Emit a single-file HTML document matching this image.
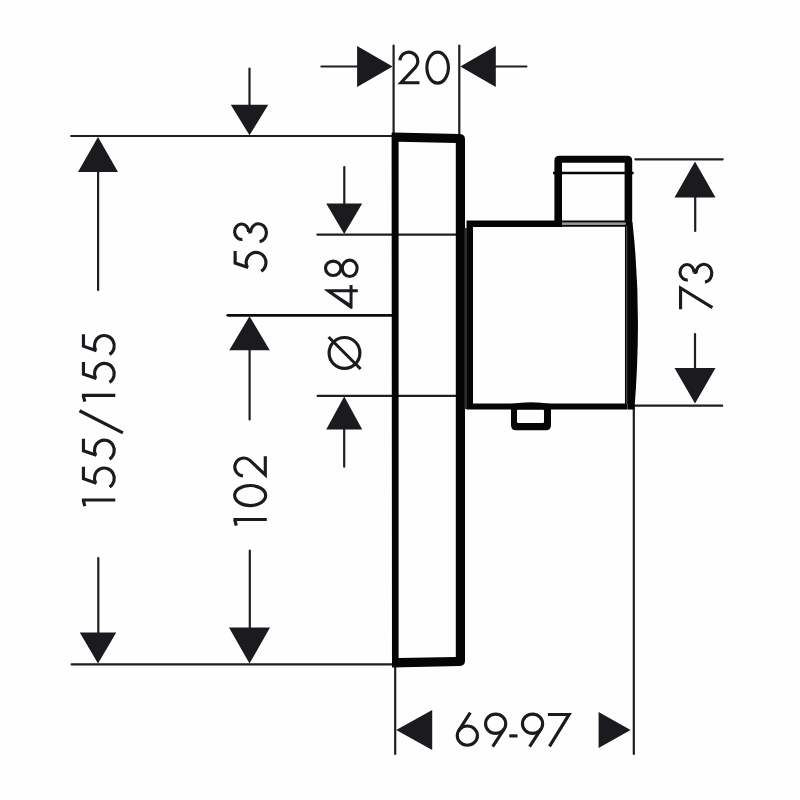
<!DOCTYPE html>
<html><head><meta charset="utf-8"><title>Dimension drawing</title>
<style>html,body{margin:0;padding:0;background:#fefefe;font-family:"Liberation Sans",sans-serif;}svg{display:block}</style>
</head><body>
<svg width="800" height="800" viewBox="0 0 800 800">
<rect width="800" height="800" fill="#fefefe"/>
<g fill="none" stroke="#1b1b1f" stroke-width="3.15" stroke-linecap="butt" stroke-linejoin="round">
<g transform="translate(398.3,50.8)"><path d="M1.6,9.6 A8.95,8.95 0 1 1 17.05,16.50 L2.7,31.9 H21.2" stroke-linejoin="miter" stroke-miterlimit="10"/></g>
<g transform="translate(425.4,50.8)"><ellipse cx="12.25" cy="16.75" rx="10.75" ry="15.5"/></g>
<g transform="translate(455.7,712.9)"><ellipse cx="11.65" cy="22.7" rx="10.1" ry="9.65"/><path d="M14.6,-0.2 L3.06,17.62"/></g>
<g transform="translate(484.0,712.9)"><g transform="rotate(180 11.65 16.75)"><ellipse cx="11.65" cy="22.7" rx="10.1" ry="9.65"/><path d="M14.6,-0.2 L3.06,17.62"/></g></g>
<g transform="translate(509.3,712.9)"><path d="M0,23.0 H8.2"/></g>
<g transform="translate(520.9,712.9)"><g transform="rotate(180 11.65 16.75)"><ellipse cx="11.65" cy="22.7" rx="10.1" ry="9.65"/><path d="M14.6,-0.2 L3.06,17.62"/></g></g>
<g transform="translate(547.9,712.9)"><path d="M0,1.55 H21.2 L1.6,33.4" stroke-linejoin="miter" stroke-miterlimit="10"/></g>
<g transform="translate(81.9,506.5) rotate(-90)"><path d="M0.3,2.9 L6.5,1.3 M6.5,0 V33.4"/></g>
<g transform="translate(81.9,488.1) rotate(-90)"><path d="M21.4,1.55 H9.4 L4.95,14.6" stroke-linejoin="miter" stroke-miterlimit="4"/><path d="M5.3,13.6 A10.2,9.9 0 1 1 1.15,27.6"/></g>
<g transform="translate(81.9,460.25) rotate(-90)"><path d="M21.4,1.55 H9.4 L4.95,14.6" stroke-linejoin="miter" stroke-miterlimit="4"/><path d="M5.3,13.6 A10.2,9.9 0 1 1 1.15,27.6"/></g>
<g transform="translate(81.9,433.75) rotate(-90)"><path d="M0.8,41 L23.0,-2.4"/></g>
<g transform="translate(81.9,401.9) rotate(-90)"><path d="M0.3,2.9 L6.5,1.3 M6.5,0 V33.4"/></g>
<g transform="translate(81.9,383.5) rotate(-90)"><path d="M21.4,1.55 H9.4 L4.95,14.6" stroke-linejoin="miter" stroke-miterlimit="4"/><path d="M5.3,13.6 A10.2,9.9 0 1 1 1.15,27.6"/></g>
<g transform="translate(81.9,355.6) rotate(-90)"><path d="M21.4,1.55 H9.4 L4.95,14.6" stroke-linejoin="miter" stroke-miterlimit="4"/><path d="M5.3,13.6 A10.2,9.9 0 1 1 1.15,27.6"/></g>
<g transform="translate(233.4,526.0) rotate(-90)"><path d="M0.3,2.9 L6.5,1.3 M6.5,0 V33.4"/></g>
<g transform="translate(233.4,507.1) rotate(-90)"><ellipse cx="11.55" cy="16.75" rx="10.05" ry="15.5"/></g>
<g transform="translate(233.4,477.5) rotate(-90)"><path d="M1.6,9.6 A8.95,8.95 0 1 1 17.05,16.50 L2.7,31.9 H21.2" stroke-linejoin="miter" stroke-miterlimit="10"/></g>
<g transform="translate(233.6,272.4) rotate(-90)"><path d="M21.4,1.55 H9.4 L4.95,14.6" stroke-linejoin="miter" stroke-miterlimit="4"/><path d="M5.3,13.6 A10.2,9.9 0 1 1 1.15,27.6"/></g>
<g transform="translate(233.6,242.2) rotate(-90)"><path d="M2.8,8.8 A7.7,7.0 0 1 1 10.0,15.0 M8.8,16.1 H10.6 M9.4,17.0 A9.0,7.9 0 1 1 0.55,26.0"/></g>
<g transform="translate(324.4,308.9) rotate(-90)"><path stroke="none" fill="#1b1b1f" fill-rule="evenodd" d="M19.6,0 L18.9,0 L0,26.6 L0.4,28.15 L16.6,28.15 L16.6,33.4 L19.6,33.4 L19.6,28.15 L24,28.15 L24,25.15 L19.6,25.15 Z M16.6,8.4 L16.6,25.15 L5.6,25.15 Z"/></g>
<g transform="translate(324.4,278.0) rotate(-90)"><ellipse cx="9.7" cy="8.8" rx="7.2" ry="7.7"/><ellipse cx="9.7" cy="25.3" rx="8.2" ry="7.4"/></g>
<g transform="translate(679.0,309.2) rotate(-90)"><path d="M0,1.55 H21.2 L1.6,33.4" stroke-linejoin="miter" stroke-miterlimit="10"/></g>
<g transform="translate(679.0,282.7) rotate(-90)"><path d="M2.8,8.8 A7.7,7.0 0 1 1 10.0,15.0 M8.8,16.1 H10.6 M9.4,17.0 A9.0,7.9 0 1 1 0.55,26.0"/></g>
<circle cx="344.5" cy="352.9" r="15.4"/><path d="M328.6,337.0 L360.6,369.0"/>
</g>
<path d="M71.2,136.0 H393 M71.6,664.3 H396 M317.4,234.55 H467 M317.6,395.8 H467 M393.6,45.6 V135 M459.3,45.6 V135 M321.4,66.5 H358 M495,66.5 H526.4 M635.4,159.35 H722.7 M635,405.7 H722.2 M633.8,405 V754 M395.2,664 V754 M98.1,171 V290 M98.3,558 V634 M249.5,68.5 V106 M249.6,349 V419.5 M249.8,550.7 V628 M344.3,167 V205 M344.2,429 V466.7 M695.2,197 V231 M695.0,334 V369" fill="none" stroke="#1e1e20" stroke-width="2.2" stroke-linecap="round"/>
<path d="M227.8,315.35 H392" fill="none" stroke="#0c0c0e" stroke-width="2.9" stroke-linecap="round"/>
<path d="M392.6,66.5 L357.10,87.00 L357.10,46.00 Z M460.3,66.5 L495.80,46.00 L495.80,87.00 Z M98.0,137.0 L118.00,172.00 L78.00,172.00 Z M98.0,663.6 L79.75,632.60 L116.25,632.60 Z M249.5,135.2 L230.75,104.70 L268.25,104.70 Z M249.5,316.2 L269.75,350.20 L229.25,350.20 Z M249.5,663.6 L229.00,627.60 L270.00,627.60 Z M344.2,234.0 L326.20,203.50 L362.20,203.50 Z M344.2,396.6 L362.20,429.60 L326.20,429.60 Z M695.0,161.5 L715.50,197.50 L674.50,197.50 Z M695.0,403.5 L674.50,368.00 L715.50,368.00 Z M396.2,730.0 L432.20,710.00 L432.20,750.00 Z M630.6,730.0 L598.60,748.00 L598.60,712.00 Z" fill="#1b1b1f"/>
<path fill="#050505" fill-rule="evenodd" d="M391.6,133.4 Q391.6,132.4 392.6,132.4 L460,134.0 Q465,134.2 465,139.2 V661 Q465,665.8 460,665.9 L392,667.6 Z M398.6,141.8 L455.8,143.0 V657.0 L398.6,658.0 Z"/>
<path fill="#050505" d="M466.5,220.5 H562 V227 H473 V403.5 H627 V409.6 H466.5 Z"/>
<rect x="464.4" y="228" width="2.6" height="181" fill="#2e2e2e"/>
<path fill="#050505" fill-rule="evenodd" d="M554.4,225 V160.8 Q554.4,155.8 559.4,155.8 H627.2 Q632.2,155.8 632.2,160.8 V226 H624.6 V162.7 H562 V225 Z"/>
<path d="M553,173 H633.6" stroke="#050505" stroke-width="2.6" fill="none"/>
<path d="M562,221.6 H626 M562,225.6 H626" stroke="#050505" stroke-width="2.2" fill="none"/>
<rect x="562" y="222.6" width="64" height="2" fill="#9a9696"/>
<path d="M625.8,226 V404" stroke="#050505" stroke-width="1.7" fill="none"/>
<rect x="626" y="226" width="2" height="178" fill="#444"/>
<path fill="#050505" d="M627.3,222 H632.4 Q642.4,310 634.4,409.6 H627.3 Z"/>
<path fill="#050505" fill-rule="evenodd" d="M511,404 Q531,400.6 551,404 V425.2 Q551,430.2 546,430.2 H516 Q511,430.2 511,425.2 Z M518.2,409.5 H542.8 Q544,409.5 544,410.7 V421.8 Q544,423 542.8,423 H518.2 Q517,423 517,421.8 V410.7 Q517,409.5 518.2,409.5 Z"/>
</svg>
</body></html>
